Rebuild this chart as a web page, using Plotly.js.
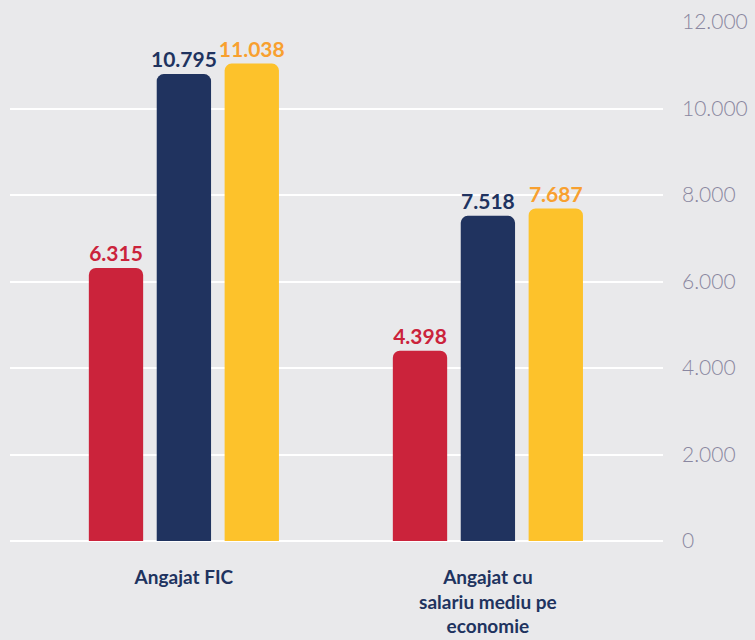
<!DOCTYPE html>
<html>
<head>
<meta charset="utf-8">
<script src="https://cdn.plot.ly/plotly-3.0.1.min.js"></script>
<style>html,body{margin:0;padding:0;background:#e9e9eb;}#chart{width:755px;height:640px;}</style>
</head>
<body>
<div id="chart"></div>
<script>
const categories = ["Angajat FIC", "Angajat cu<br>salariu mediu pe<br>economie"];
const seriesRed = [6315, 4398];
const seriesNavy = [10795, 7518];
const seriesYellow = [11038, 7687];
const tickValues = [0, 2000, 4000, 6000, 8000, 10000, 12000];

function barTrace(name, values, fill, textColor) {
  return {
    type: 'bar', name: name, x: categories, y: values,
    marker: {color: fill, cornerradius: 7},
    texttemplate: '%{y:,.0f}', textposition: 'outside', cliponaxis: false,
    constraintext: 'none',
    textfont: {family: 'Lato, "Open Sans", sans-serif', size: 21, weight: 700, color: textColor},
    hoverinfo: 'skip'
  };
}

const data = [
  barTrace('Serie 1', seriesRed, '#cb233b', '#cb233b'),
  barTrace('Serie 2', seriesNavy, '#20335f', '#20335f'),
  barTrace('Serie 3', seriesYellow, '#fdc22b', '#f8a02f')
];

const layout = {
  width: 755, height: 640,
  paper_bgcolor: '#e9e9eb', plot_bgcolor: '#e9e9eb',
  margin: {l: 10, r: 92, t: 22, b: 99},
  separators: ',.',
  showlegend: false,
  barmode: 'group', bargap: 0.33, bargroupgap: 0.2,
  xaxis: {
    type: 'category', range: [-0.572, 1.576],
    showgrid: false, zeroline: false, showline: false, ticks: '',
    tickfont: {family: 'Lato, "Open Sans", sans-serif', size: 19, weight: 700, color: '#20335f'},
    ticklabelstandoff: 23
  },
  yaxis: {
    side: 'right', range: [0, 12000], tickvals: tickValues,
    tickformat: ',.0f',
    showgrid: true, gridcolor: '#ffffff', gridwidth: 2,
    zeroline: true, zerolinecolor: '#ffffff', zerolinewidth: 2,
    showline: false, ticks: '',
    tickfont: {family: 'Lato, "Open Sans", sans-serif', size: 21, weight: 300, color: '#8a87a0'},
    ticklabelstandoff: 18
  }
};

Plotly.newPlot('chart', data, layout, {displayModeBar: false, staticPlot: true});
</script>
</body>
</html>
